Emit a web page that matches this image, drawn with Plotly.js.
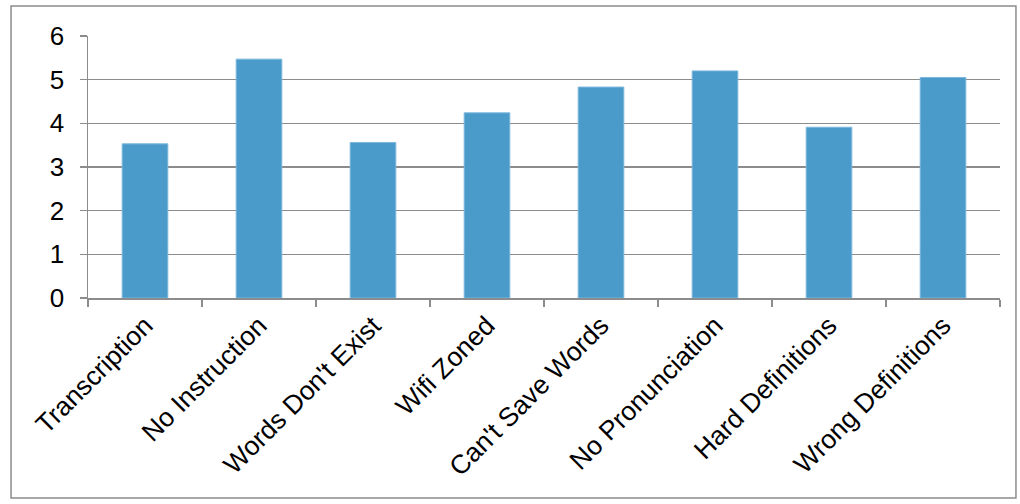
<!DOCTYPE html>
<html>
<head>
<meta charset="utf-8">
<script src="https://cdn.plot.ly/plotly-3.0.1.min.js"></script>
<style>
  html, body { margin: 0; padding: 0; background: #ffffff; }
  #chart { width: 1020px; height: 504px; }
</style>
</head>
<body>
<div id="chart"></div>
<script>
// Complaint categories and their average ratings
const categories = [
  "Transcription",
  "No Instruction",
  "Words Don't Exist",
  "Wifi Zoned",
  "Can't Save Words",
  "No Pronunciation",
  "Hard Definitions",
  "Wrong Definitions"
];
const ratings = [3.53, 5.47, 3.56, 4.24, 4.83, 5.20, 3.91, 5.05];
const yTicks = [0, 1, 2, 3, 4, 5, 6];

const gridGray = "#8c8c8c";
const family = "Liberation Sans, Arial, sans-serif";

const trace = {
  type: "bar",
  x: categories,
  y: ratings,
  marker: { color: "#4a9bca", line: { color: "#7ab6dc", width: 1 } },
  hoverinfo: "x+y"
};

const layout = {
  width: 1020,
  height: 504,
  margin: { l: 88, r: 20, t: 36, b: 206 },
  paper_bgcolor: "#ffffff",
  plot_bgcolor: "#ffffff",
  showlegend: false,
  bargap: 0.6,
  font: { family: family, size: 26, color: "#000000" },
  xaxis: {
    type: "category",
    tickangle: -45,
    tickson: "boundaries",
    ticks: "outside",
    ticklen: 7,
    tickwidth: 1.5,
    tickcolor: gridGray,
    showline: true,
    linecolor: gridGray,
    linewidth: 1.5,
    showgrid: false,
    tickfont: { family: family, size: 26.5, color: "#000000" },
    automargin: false
  },
  yaxis: {
    range: [0, 6],
    tickvals: yTicks,
    ticktext: yTicks.map(String),
    ticks: "outside",
    ticklen: 7,
    tickwidth: 1.5,
    tickcolor: gridGray,
    ticklabelstandoff: 10,
    showline: true,
    linecolor: gridGray,
    linewidth: 1.5,
    showgrid: true,
    gridcolor: gridGray,
    gridwidth: 1.5,
    zeroline: false,
    tickfont: { family: family, size: 26, color: "#000000" },
    automargin: false
  },
  shapes: [
    {
      type: "rect",
      xref: "paper", yref: "paper",
      x0: -0.0844, x1: 1.0175,
      y0: -0.763, y1: 1.1145,
      line: { color: "#8c8c8c", width: 1.5 },
      fillcolor: "rgba(0,0,0,0)",
      layer: "below"
    }
  ]
};

Plotly.newPlot("chart", [trace], layout, { displayModeBar: false, staticPlot: true });
</script>
</body>
</html>
